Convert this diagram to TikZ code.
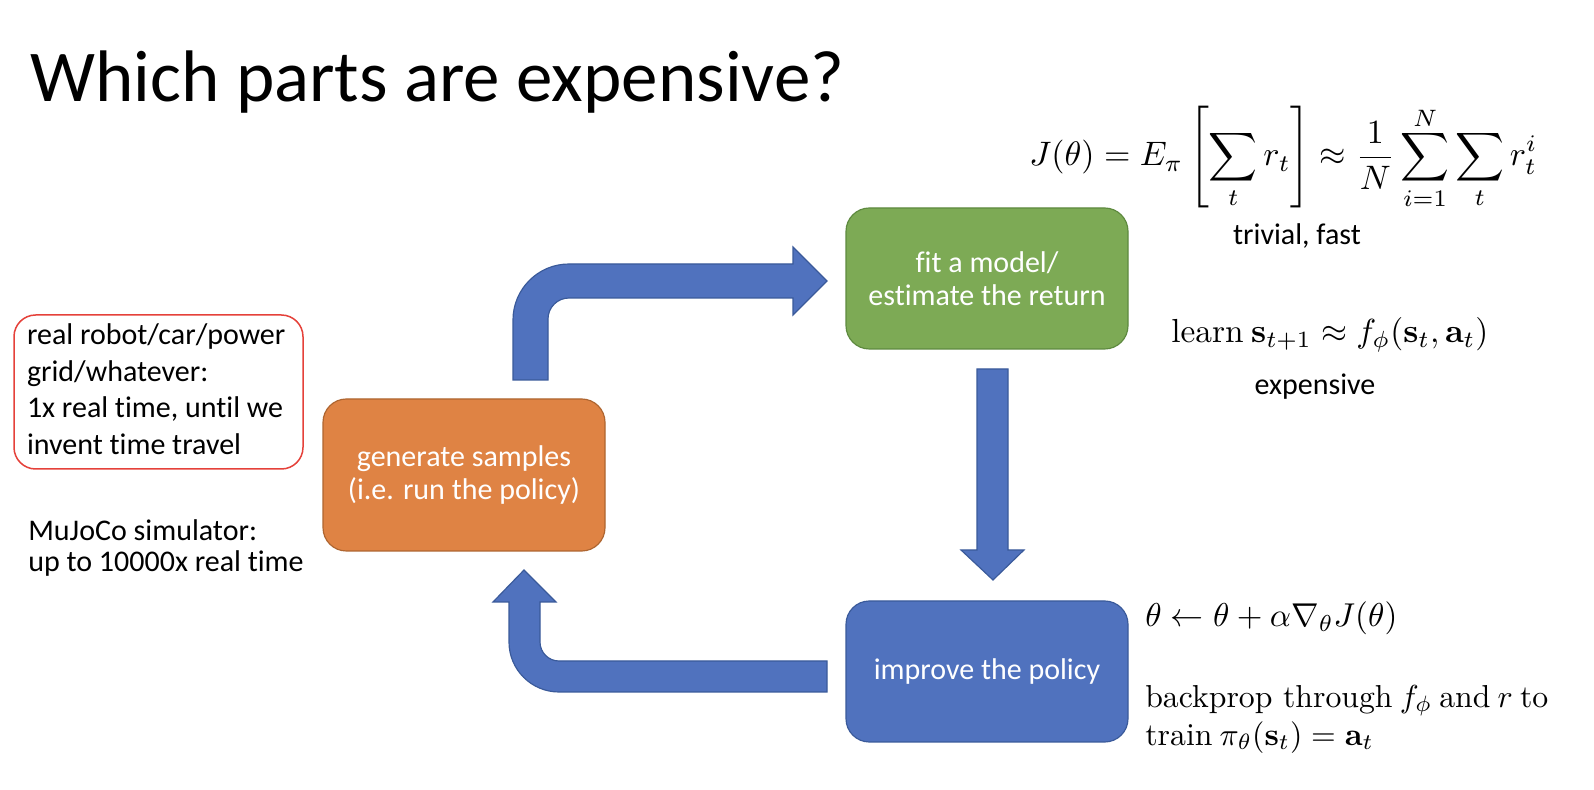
\documentclass[tikz,border=0pt]{standalone}
\usepackage[no-math]{fontspec}
\setmainfont{Carlito}[Ligatures=NoCommon]
\newfontfamily\lmr{Latin Modern Roman}
\usepackage{graphicx}

\definecolor{orangefill}{HTML}{DF8344}
\definecolor{orangeline}{HTML}{AE6530}
\definecolor{greenfill}{HTML}{7DAA55}
\definecolor{greenline}{HTML}{5E8A3F}
\definecolor{bluefill}{HTML}{5072BE}
\definecolor{blueline}{HTML}{3A5A9A}
\definecolor{redline}{HTML}{E5413A}

\tikzset{
  stepbox/.style={rectangle, rounded corners=14pt, line width=0.7pt,
    minimum width=169.2pt, text=white, align=center,
    font=\fontsize{18}{20}\selectfont},
  blockarrow/.style={fill=bluefill, draw=blueline, line width=0.7pt, line join=miter},
  sidetext/.style={font=\fontsize{18}{21.9}\selectfont, inner sep=0pt},
}

\begin{document}
\begin{tikzpicture}[x=0.6pt, y=-0.6pt]
\useasboundingbox (0,0) rectangle (1594,790);
\fill[white] (0,0) rectangle (1594,790);

% title
\node[anchor=base west, inner sep=0pt, font=\fontsize{43.8}{52}\selectfont] (title) at (30,102) {Which parts are expensive?};

% the three stages of the loop
\node[stepbox, fill=orangefill, draw=orangeline, minimum height=91.2pt] (gen) at (464,475)
  {generate samples\\(i.e. run the policy)};
\node[stepbox, fill=greenfill, draw=greenline, minimum height=84.6pt] (fit) at (987,278.5)
  {fit a model/\\estimate the return};
\node[stepbox, fill=bluefill, draw=blueline, minimum height=84.6pt] (improve) at (987,671.5)
  {improve the policy};

% block arrows between the stages
\draw[blockarrow] (513,380) -- (548,380) -- (548,319)
  .. controls (548,307.4) and (557.4,298) .. (569,298) -- (793,298) -- (793,315)
  -- (827,281) -- (793,247) -- (793,264) -- (569,264)
  .. controls (538.1,264) and (513,289.1) .. (513,320) -- cycle;
\draw[blockarrow] (977,369) -- (1008,369) -- (1008,550) -- (1024,550) -- (993,580)
  -- (961,550) -- (977,550) -- cycle;
\draw[blockarrow] (827,661) -- (559,661) .. controls (548.5,661) and (540,652.5) .. (540,642)
  -- (540,602) -- (556,602) -- (524,570) -- (493,602) -- (509,602) -- (509,642)
  .. controls (509,669.6) and (531.4,692) .. (559,692) -- (827,692) -- cycle;

% sampling cost notes
\node[sidetext, draw=redline, line width=0.9pt, rounded corners=13pt,
  minimum width=173.4pt, minimum height=92.4pt] (real) at (158.5,392)
  {\makebox[157.8pt][l]{\begin{tabular}{@{}l@{}}real robot/car/power\\grid/whatever:\\1x real time, until we\\invent time travel\end{tabular}}};
\node[sidetext, anchor=base west] (mujoco1) at (28,541) {MuJoCo simulator:};
\node[sidetext, anchor=base west] (mujoco2) at (28,572) {up to 10000x real time};

% return estimate
\node[anchor=base west, inner sep=0pt] (jeq) at (1029,166)
  {\resizebox{304.8pt}{!}{$\displaystyle J(\theta)=E_\pi\left[\sum_t r_t\right]\approx\frac{1}{N}\sum_{i=1}^{\raisebox{-2.5pt}{$\scriptstyle N$}}\sum_t r_t^i$}};
\node[sidetext, anchor=base] (trivial) at (1297,245) {trivial, fast};

% model fitting
\node[anchor=base west, inner sep=0pt] (learn) at (1171,343)
  {\resizebox{190.2pt}{!}{{\lmr learn} $\mathbf{s}_{t+1}\approx f_\phi(\mathbf{s}_t,\mathbf{a}_t)$}};
\node[sidetext, anchor=base] (expensive) at (1315,395) {expensive};

% policy improvement
\node[anchor=base west, inner sep=0pt] (update) at (1145,627)
  {\resizebox{151.2pt}{!}{$\theta\leftarrow\theta+\alpha\nabla_\theta J(\theta)$}};
\node[anchor=base west, inner sep=0pt] (backprop) at (1145,707)
  {\resizebox{241.8pt}{!}{\begin{tabular}[t]{@{}l@{}}{\lmr backprop through} $f_\phi$ {\lmr and} $r$ {\lmr to}\\{\lmr train} $\pi_\theta(\mathbf{s}_t)=\mathbf{a}_t$\end{tabular}}};
\end{tikzpicture}
\end{document}
